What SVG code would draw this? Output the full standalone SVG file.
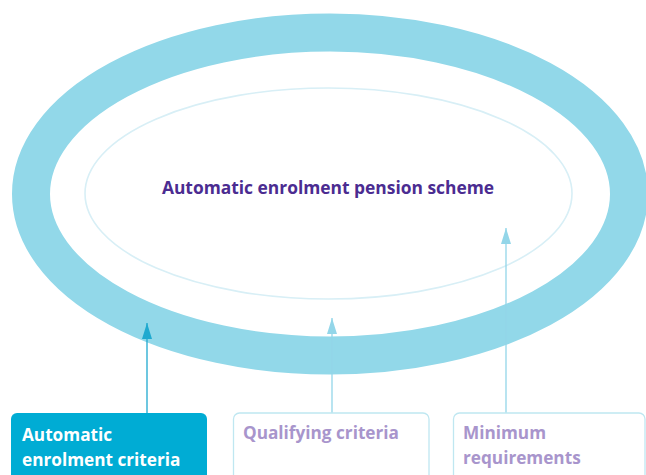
<svg xmlns="http://www.w3.org/2000/svg" width="646" height="475" viewBox="0 0 646 475">
<defs>
<style>
.lbl{font-family:"Open Sans","Liberation Sans",sans-serif;font-weight:bold;font-size:17.2px}
.box{fill:#ffffff;stroke:#bfe7f1;stroke-width:1.3}
</style>
<marker id="ahDark" viewBox="0 0 16 10" refX="16" refY="5" markerWidth="16" markerHeight="10" markerUnits="userSpaceOnUse" orient="auto">
<path d="M0,0 L16,5 L0,10 Z" fill="#1fa9cf"/>
</marker>
<marker id="ahLight" viewBox="0 0 16 10" refX="16" refY="5" markerWidth="16" markerHeight="10" markerUnits="userSpaceOnUse" orient="auto">
<path d="M0,0 L16,5 L0,10 Z" fill="#93d6e9"/>
</marker>
</defs>
<rect width="646" height="475" fill="#ffffff"/>
<g id="scheme">
<ellipse cx="330" cy="194" rx="299" ry="161.5" fill="none" stroke="#92d8e9" stroke-width="38"/>
<ellipse cx="328.5" cy="193.5" rx="243.5" ry="105.5" fill="none" stroke="#d8eff6" stroke-width="1.6"/>
<text x="328" y="194" text-anchor="middle" font-family="'Open Sans','Liberation Sans',sans-serif" font-weight="bold" font-size="17.4" fill="#4b2c91">Automatic enrolment pension scheme</text>
</g>
<g id="connectors">
<line x1="147" y1="413" x2="147" y2="323" stroke="#1fa9cf" stroke-width="1.3" marker-end="url(#ahDark)"/>
<line x1="332" y1="413" x2="332" y2="318" stroke="#93d6e9" stroke-width="1.3" marker-end="url(#ahLight)"/>
<line x1="506" y1="413" x2="506" y2="228" stroke="#93d6e9" stroke-width="1.3" marker-end="url(#ahLight)"/>
</g>
<g id="box-auto">
<rect x="11" y="413" width="196" height="80" rx="6" fill="#00acd4"/>
<text class="lbl" x="22" y="441" fill="#ffffff">Automatic</text>
<text class="lbl" x="22" y="466" fill="#ffffff">enrolment criteria</text>
</g>
<g id="box-qualifying">
<rect class="box" x="233.5" y="413" width="195.5" height="80" rx="6"/>
<text class="lbl" x="243" y="439" fill="#a895cc">Qualifying criteria</text>
</g>
<g id="box-minimum">
<rect class="box" x="453.5" y="413" width="191.5" height="80" rx="6"/>
<text class="lbl" x="463" y="439" fill="#a895cc">Minimum</text>
<text class="lbl" x="463" y="464" fill="#a895cc">requirements</text>
</g>
</svg>
